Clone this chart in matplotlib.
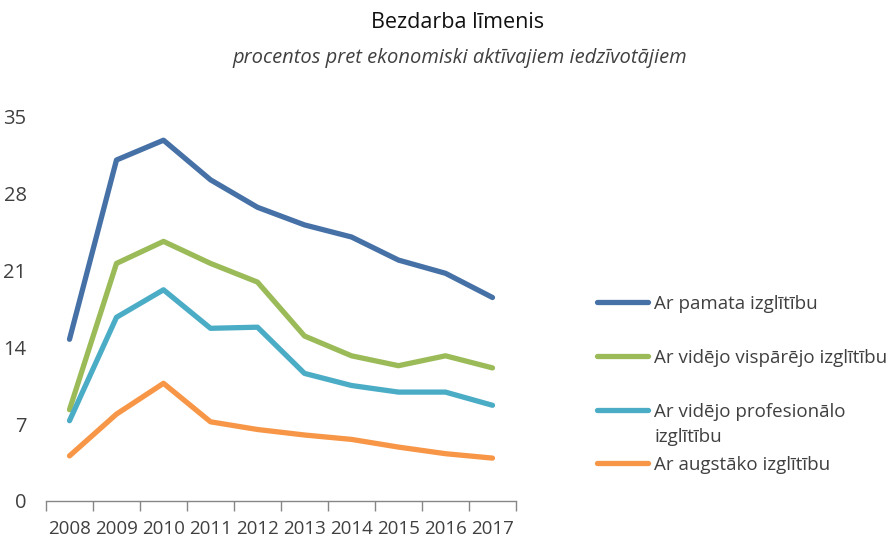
import matplotlib
matplotlib.use("Agg")
import matplotlib.pyplot as plt
from matplotlib.lines import Line2D

plt.rcParams["font.family"] = ["Open Sans", "DejaVu Sans"]

years = ["2008", "2009", "2010", "2011", "2012", "2013", "2014", "2015", "2016", "2017"]
pamata = [14.7, 31.0, 32.8, 29.2, 26.7, 25.1, 24.0, 21.9, 20.7, 18.5]
visparejo = [8.3, 21.6, 23.6, 21.6, 19.9, 15.0, 13.2, 12.3, 13.2, 12.1]
profesionalo = [7.3, 16.7, 19.2, 15.7, 15.8, 11.6, 10.5, 9.9, 9.9, 8.7]
augstako = [4.1, 7.9, 10.7, 7.2, 6.5, 6.0, 5.6, 4.9, 4.3, 3.9]

labels = [
    "Ar pamata izglītību",
    "Ar vidējo vispārējo izglītību",
    "Ar vidējo profesionālo\nizglītību",
    "Ar augstāko izglītību",
]
series = [pamata, visparejo, profesionalo, augstako]
colors = ["#4671A7", "#9BBB59", "#4BACC6", "#F79646"]

yticks = [0, 7, 14, 21, 28, 35]
text_color = "#404040"

W, H = 893, 540
fig = plt.figure(figsize=(W / 100, H / 100), dpi=100)
ax = fig.add_axes([46 / W, 1 - 501 / H, 470 / W, 385 / H])

x = range(len(years))
for values, color in zip(series, colors):
    ax.plot(x, values, color=color, linewidth=3.8, solid_capstyle="round", solid_joinstyle="round")

ax.set_ylim(0, 35)
ax.set_xlim(-0.5, len(years) - 0.5)
ax.set_yticks(yticks)
ax.set_yticklabels([str(v) for v in yticks])
ax.set_xticks(list(x))
ax.set_xticklabels(years)
ax.set_xticks([i - 0.5 for i in range(len(years) + 1)], minor=True)

for side in ["left", "right", "top"]:
    ax.spines[side].set_visible(False)
ax.spines["bottom"].set_color("#868686")
ax.spines["bottom"].set_linewidth(1.0)

ax.tick_params(axis="y", length=0, pad=14, labelsize=14.5, labelcolor=text_color)
ax.tick_params(axis="x", which="major", length=0, pad=14, labelsize=13.5, labelcolor=text_color)
ax.tick_params(axis="x", which="minor", length=7, width=1.0, color="#868686")

fig.text(458 / W, 1 - 22 / H, "Bezdarba līmenis", ha="center", va="center", fontsize=15.5, color="#111111")
fig.text(460 / W, 1 - 58 / H, "procentos pret ekonomiski aktīvajiem iedzīvotājiem",
         ha="center", va="center", fontsize=14.5, style="italic", color=text_color)

# legend drawn by hand to mimic the wrapped label layout
legend_y = [302, 356, 410, 463]
for label, color, ly in zip(labels, colors, legend_y):
    fy = 1 - ly / H
    fig.add_artist(Line2D([597 / W, 648 / W], [fy, fy], color=color, linewidth=3.8,
                          solid_capstyle="round", transform=fig.transFigure))
    fig.text(654 / W, fy + 7 / H, label, ha="left", va="top", fontsize=13.5,
             color=text_color, linespacing=1.5)

fig.savefig("out.png", dpi=100)
